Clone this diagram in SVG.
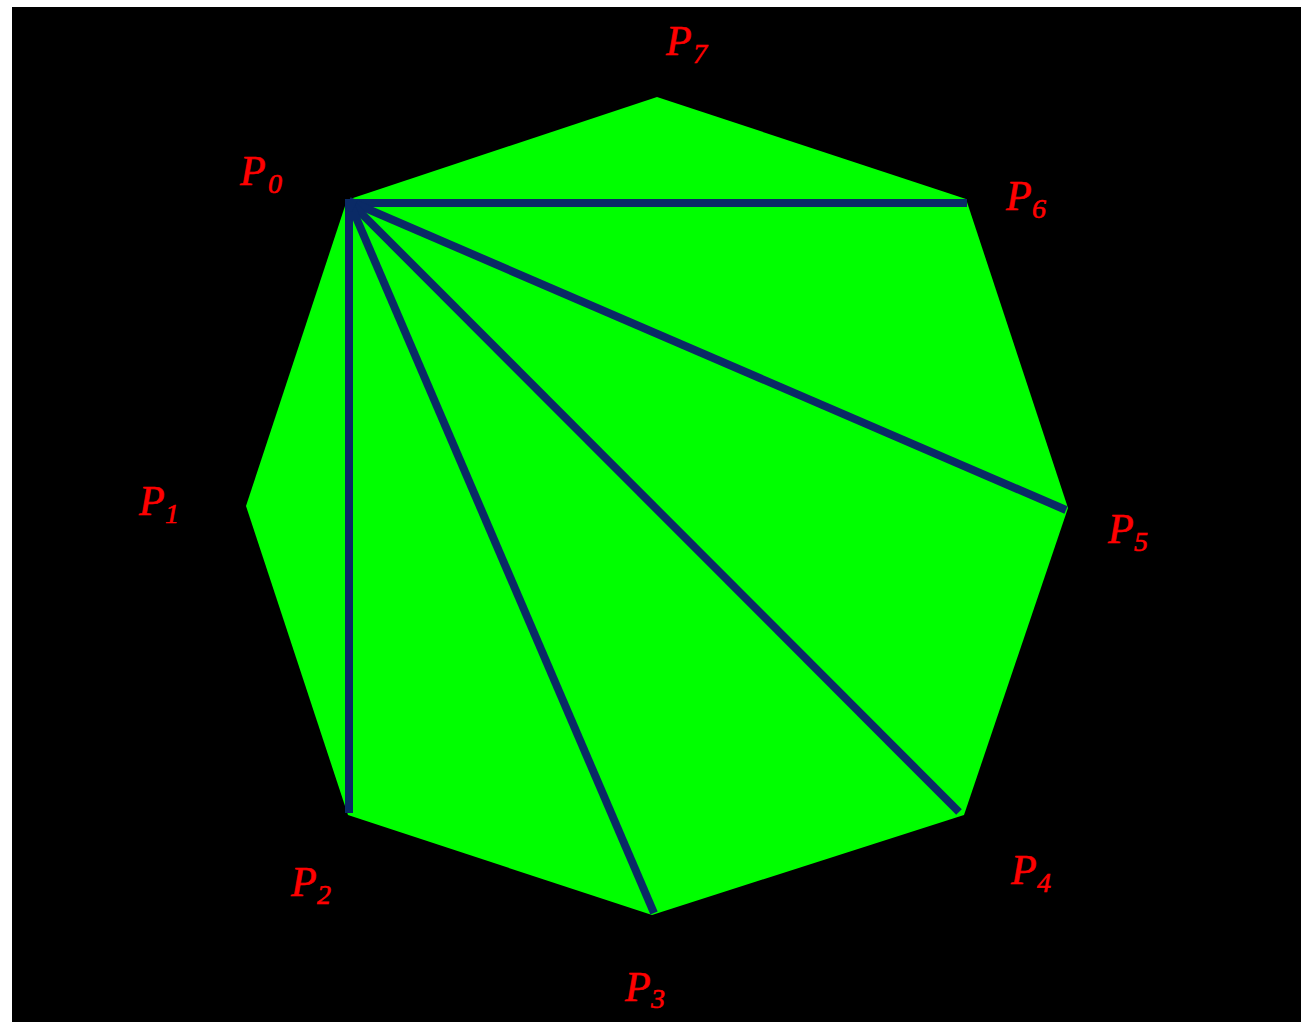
<svg xmlns="http://www.w3.org/2000/svg" width="1301" height="1022" viewBox="0 0 1301 1022">
<style>
.lbl{font-family:"Liberation Serif","DejaVu Serif",serif;font-style:italic;fill:#ff0000;font-size:42px;stroke:#ff0000;stroke-width:0.6}
.sub{font-size:28px}
.diag{stroke:#0a2a66;stroke-width:8;fill:none;stroke-linecap:butt}
</style>
<rect x="0" y="0" width="1301" height="1022" fill="#ffffff"/>
<rect x="12" y="7" width="1289" height="1015" fill="#000000"/>
<g id="octagon">
<polygon points="347,200 657,97 966,199 1068,508 964,815 652,915 348,815 246,506" fill="#00ff00"/>
</g>
<g id="connectors">
<line class="diag" x1="349" y1="203" x2="967" y2="203"/>
<line class="diag" x1="349" y1="201" x2="1066" y2="510"/>
<line class="diag" x1="349" y1="201" x2="959" y2="812"/>
<line class="diag" x1="349" y1="201" x2="654" y2="913"/>
<line class="diag" x1="349" y1="200" x2="349" y2="813"/>
<polygon points="345,199 358,199 352,212 345,210" fill="#0a2a66"/>
</g>
<g id="P0"><text class="lbl" x="240" y="185">P<tspan class="sub" x="268" y="193">0</tspan></text></g>
<g id="P1"><text class="lbl" x="139" y="515">P<tspan class="sub" x="165" y="523">1</tspan></text></g>
<g id="P2"><text class="lbl" x="291" y="896">P<tspan class="sub" x="317" y="904">2</tspan></text></g>
<g id="P3"><text class="lbl" x="625" y="1001">P<tspan class="sub" x="651" y="1008">3</tspan></text></g>
<g id="P4"><text class="lbl" x="1011" y="884">P<tspan class="sub" x="1037" y="892">4</tspan></text></g>
<g id="P5"><text class="lbl" x="1108" y="543">P<tspan class="sub" x="1134" y="551">5</tspan></text></g>
<g id="P6"><text class="lbl" x="1006" y="210">P<tspan class="sub" x="1032" y="218">6</tspan></text></g>
<g id="P7"><text class="lbl" x="666" y="55">P<tspan class="sub" x="693" y="63">7</tspan></text></g>
</svg>
